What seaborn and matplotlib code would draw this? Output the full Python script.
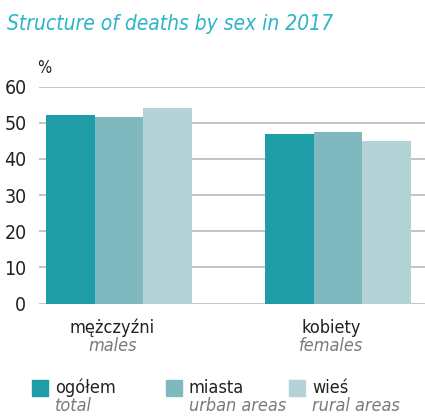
import pandas as pd
import matplotlib.pyplot as plt
import matplotlib.patches as mpatches
import matplotlib.transforms as mtransforms
import seaborn as sns

# -----------------------------
# DATA
# -----------------------------
sexes_pl = ["mężczyźni", "kobiety"]
sexes_en = ["males", "females"]
areas_pl = ["ogółem", "miasta", "wieś"]
areas_en = ["total", "urban areas", "rural areas"]
total = [52.2, 47.0]
urban = [51.6, 47.5]
rural = [54.1, 45.0]

colors = ["#1f9da6", "#7fb8bf", "#b4d3d7"]
title_color = "#2bb5c8"
grey = "#7a7a7a"

df = pd.DataFrame({
    "sex": sexes_pl * 3,
    "area": [a for a in areas_pl for _ in sexes_pl],
    "value": total + urban + rural,
})

# -----------------------------
# PLOT
# -----------------------------
sns.set_style("white")
plt.rcParams["font.family"] = ["DejaVu Sans"]
plt.rcParams["font.stretch"] = "condensed"

fig = plt.figure(figsize=(4.25, 4.16), dpi=100)
ax = fig.add_axes([39 / 425, (416 - 303.5) / 416, 1 - 39 / 425, (303.5 - 86.7) / 416])

sns.barplot(data=df, x="sex", y="value", hue="area", order=sexes_pl,
            hue_order=areas_pl, palette=colors, width=0.667,
            saturation=1, legend=False, linewidth=0, ax=ax)

ax.set_xlim(-0.365, 1.397)
ax.set_ylim(0, 60)
ax.set_yticks(range(0, 61, 10))
ax.yaxis.grid(True, color="#c4c4c4", linewidth=1.4)
ax.set_axisbelow(True)
ax.tick_params(axis="y", length=0, pad=9, labelsize=14, labelcolor="#222222")
ax.set_xticks([])
ax.set_xlabel("")
ax.set_ylabel("")
for s in ax.spines.values():
    s.set_visible(False)

# category labels
trans = mtransforms.blended_transform_factory(ax.transData, fig.transFigure)
for i, (pl, en) in enumerate(zip(sexes_pl, sexes_en)):
    ax.text(i - 0.03, 1 - 328 / 416, pl, transform=trans, ha="center", va="center",
            fontsize=13, color="#222222")
    ax.text(i - 0.03, 1 - 346 / 416, en, transform=trans, ha="center", va="center",
            fontsize=13, color=grey, style="italic")

# title and unit
fig.text(7 / 425, 1 - 24 / 416, "Structure of deaths by sex in 2017",
         fontsize=15, color=title_color, style="italic", va="center", ha="left")
fig.text(37 / 425, 1 - 68 / 416, "%", fontsize=12, color="#222222", va="center", ha="left")

# legend
leg_x = [32, 166, 289]
for x, c, pl, en in zip(leg_x, colors, areas_pl, areas_en):
    fig.patches.append(mpatches.Rectangle((x / 425, 1 - 396 / 416), 16 / 425, 16 / 416,
                                          transform=fig.transFigure, color=c))
    fig.text((x + 23) / 425, 1 - 388 / 416, pl, fontsize=13, color="#222222",
             va="center", ha="left")
    fig.text((x + 23) / 425, 1 - 406 / 416, en, fontsize=13, color=grey,
             style="italic", va="center", ha="left")

plt.savefig("out.png", dpi=100)
